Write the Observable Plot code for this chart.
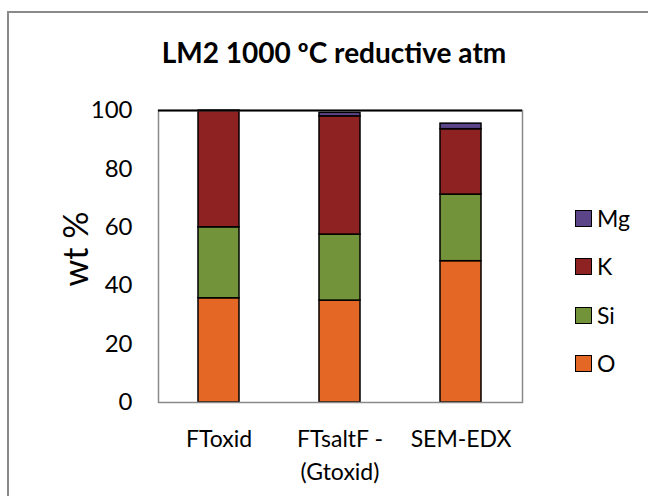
<!DOCTYPE html>
<html>
<head>
<meta charset="utf-8">
<script src="https://cdn.jsdelivr.net/npm/d3@7"></script>
<script src="https://cdn.jsdelivr.net/npm/@observablehq/plot@0.6"></script>
<style>
  html, body { margin: 0; padding: 0; background: #fff; }
  #wrap { position: relative; width: 648px; height: 496px; overflow: hidden; font-family: Lato, "Open Sans", sans-serif; }
  #border { position: absolute; left: 7px; top: 11px; width: 700px; height: 600px; border-left: 2px solid #8a8a8a; border-top: 2px solid #8a8a8a; box-sizing: border-box; }
  #title { position: absolute; left: 0; width: 668px; top: 35px; text-align: center; font-weight: bold; font-size: 28px; line-height: 34px; color: #000; }
  #ylab { position: absolute; left: 74px; top: 249px; transform: translate(-50%, -50%) rotate(-90deg); font-size: 34px; white-space: nowrap; }
  #chart { position: absolute; left: 0; top: 0; }
  .leg { position: absolute; left: 575px; font-size: 23px; line-height: 28px; height: 28px; display: flex; align-items: center; }
  .leg span.sw { display: inline-block; width: 17px; height: 17px; border: 1.5px solid #000; box-sizing: border-box; margin-right: 5px; }
</style>
</head>
<body>
<div id="wrap">
  <div id="border"></div>
  <div id="title">LM2 1000 ºC reductive atm</div>
  <div id="ylab">wt %</div>
  <div id="chart"></div>
  <div id="legend"></div>
</div>
<script>
const categories = ["FToxid", "FTsaltF - (Gtoxid)", "SEM-EDX"];
const categoryLabels = ["FToxid", "FTsaltF -\n(Gtoxid)", "SEM-EDX"];
const elements = ["O", "Si", "K", "Mg"];
const O  = [35.7, 34.9, 48.4];
const Si = [24.3, 22.6, 22.8];
const K  = [40.0, 40.5, 22.4];
const Mg = [0.0, 1.2, 1.9];
const colors = ["#E46726", "#73933B", "#8E2121", "#5B4487"];
const yTicks = [0, 20, 40, 60, 80, 100];

const seriesValues = [O, Si, K, Mg];
const rows = [];
elements.forEach((el, j) => {
  categories.forEach((c, i) => rows.push({cat: c, el, v: seriesValues[j][i]}));
});

const fontFam = 'Lato, "Open Sans", sans-serif';
const chart = Plot.plot({
  width: 648,
  height: 496,
  marginLeft: 158,
  marginRight: 126,
  marginTop: 110,
  marginBottom: 94,
  style: {fontFamily: fontFam, background: "transparent", color: "#000"},
  x: {domain: categories, paddingInner: 0.66, paddingOuter: 0.33, label: null},
  y: {domain: [0, 100], label: null},
  color: {domain: elements, range: colors},
  marks: [
    Plot.barY(rows, {x: "cat", y: "v", fill: "el", stroke: "#000", strokeWidth: 1.5}),
    Plot.frame({stroke: "#8a8a8a", strokeWidth: 1.5}),
    Plot.ruleY([100], {stroke: "#000", strokeWidth: 2}),
    Plot.axisY({ticks: yTicks, tickSize: 0, tickPadding: 26, fontSize: 24, label: null}),
    Plot.axisX({tickSize: 0, tickPadding: 22, fontSize: 23, lineHeight: 1.4, label: null,
      tickFormat: d => categoryLabels[categories.indexOf(d)]})
  ]
});
document.getElementById("chart").appendChild(chart);

const legendCenters = [218, 266, 315, 363];
const leg = document.getElementById("legend");
["Mg", "K", "Si", "O"].forEach((el, k) => {
  const d = document.createElement("div");
  d.className = "leg";
  d.style.top = (legendCenters[k] - 14) + "px";
  const sw = document.createElement("span");
  sw.className = "sw";
  sw.style.background = colors[elements.indexOf(el)];
  d.appendChild(sw);
  d.appendChild(document.createTextNode(el));
  leg.appendChild(d);
});
</script>
</body>
</html>
